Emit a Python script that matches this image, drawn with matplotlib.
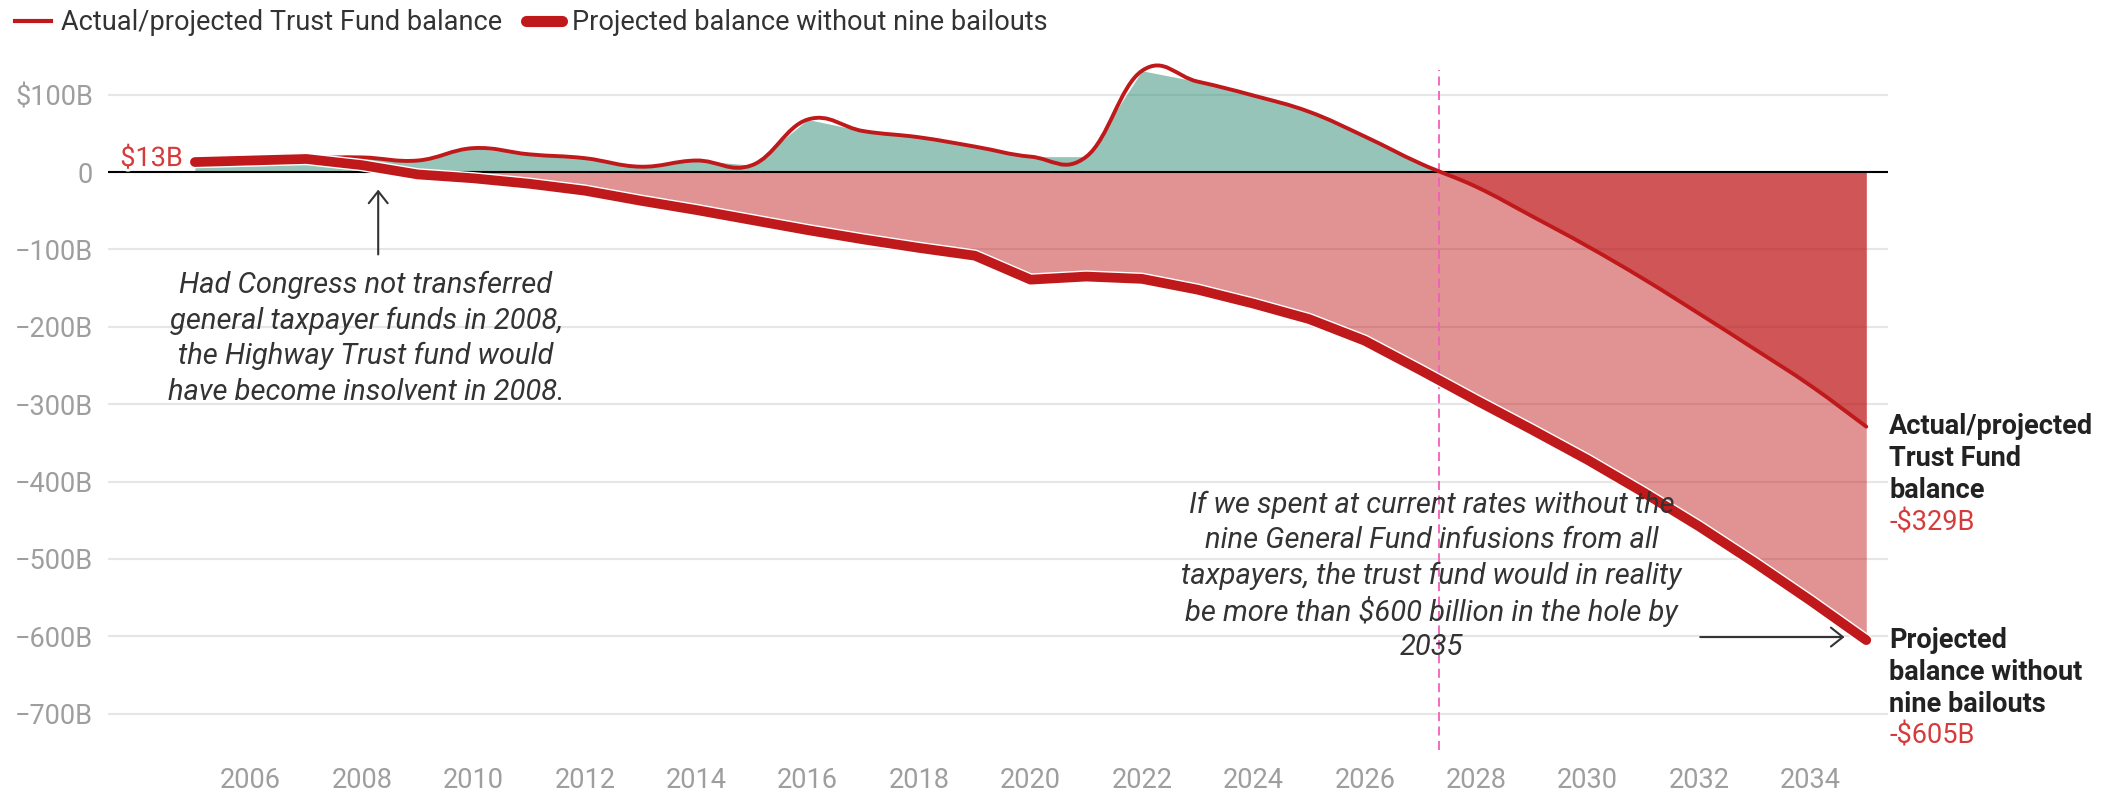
import numpy as np
import matplotlib
matplotlib.use("Agg")
import matplotlib.pyplot as plt
from matplotlib.path import Path
from matplotlib.patches import PathPatch, FancyArrowPatch
from matplotlib.lines import Line2D
import matplotlib.patheffects as pe

# ---------------- data ----------------
years = list(range(2005, 2036))
actual = [13, 16, 18, 19, 15, 31, 23, 18, 7, 15, 9, 68, 53, 45, 33, 20, 20,
          131, 117, 99, 78, 46, 11, -19, -57, -96, -138, -183, -229, -276, -329]
no_bailout = [13, 15, 17, 9, -3, -8, -15, -24, -37, -49, -62, -75, -87, -98,
              -108, -139, -135, -138, -152, -170, -190, -218, -256, -295, -333,
              -372, -414, -458, -505, -554, -605]
series_names = ["Actual/projected Trust Fund balance",
                "Projected balance without nine bailouts"]
end_names = ["Actual/projected\nTrust Fund\nbalance",
             "Projected\nbalance without\nnine bailouts"]
end_values = ["-$329B", "-$605B"]
start_label = "$13B"
yticks = [100, 0, -100, -200, -300, -400, -500, -600, -700]
ytick_labels = ["$100B", "0", "\u2212100B", "\u2212200B", "\u2212300B",
                "\u2212400B", "\u2212500B", "\u2212600B", "\u2212700B"]
xticks = list(range(2006, 2035, 2))
insolvency_year = 2027.33
note1 = ["Had Congress not transferred", "general taxpayer funds in 2008,",
         "the Highway Trust fund would", "have become insolvent in 2008."]
note2 = ["If we spent at current rates without the",
         "nine General Fund infusions from all",
         "taxpayers, the trust fund would in reality",
         "be more than $600 billion in the hole by", "2035"]

# ---------------- style ----------------
plt.rcParams["font.family"] = ["Roboto", "DejaVu Sans"]
RED = "#c0191b"
GREEN = "#2e8b74"
PINK_LINE = "#f060b8"
GRID = "#e6e6e6"
TICK = "#9e9e9e"
TEXT = "#333333"
LABEL_RED = "#d63b3b"
FS = 19.5
NOTE_FS = 21

W, H = 2108, 794
fig = plt.figure(figsize=(W / 100, H / 100), dpi=100)
ax = fig.add_axes([108 / W, 44 / H, 1780 / W, 680 / H])
ax.set_xlim(2003.44, 2035.39)
ax.set_ylim(-747, 132)

x = np.array(years, dtype=float)
ya = np.array(actual, dtype=float)
yb = np.array(no_bailout, dtype=float)

# fills
ax.fill_between(x, 0, ya, where=ya >= 0, interpolate=True, color=GREEN,
                alpha=0.5, lw=0, zorder=2)
ax.fill_between(x, 0, yb, where=yb <= 0, interpolate=True, color=RED,
                alpha=0.47, lw=0, zorder=2)
ax.fill_between(x, 0, ya, where=ya <= 0, interpolate=True, color=RED,
                alpha=0.5, lw=0, zorder=2)

# grid and zero line
ax.set_yticks(yticks)
ax.set_yticklabels(ytick_labels)
ax.set_xticks(xticks)
ax.set_xticklabels([str(t) for t in xticks])
ax.yaxis.grid(True, color=GRID, lw=1.5, zorder=0)
ax.set_axisbelow(True)
ax.axhline(0, color="black", lw=1.5, zorder=4)
for s in ax.spines.values():
    s.set_visible(False)
ax.tick_params(axis="both", length=0, labelsize=FS, labelcolor=TICK)
ax.tick_params(axis="y", pad=10.8)
ax.tick_params(axis="x", pad=12)

# insolvency dashed line
ax.axvline(insolvency_year, color=PINK_LINE, lw=1.3, ls=(0, (5, 3)), zorder=5)

# smooth (cardinal spline) actual line drawn as cubic Bezier path
pts = np.column_stack([x, ya])
verts = [tuple(pts[0])]
codes = [Path.MOVETO]
n = len(pts)
k = 5.0
for i in range(n - 1):
    p0 = pts[i - 1] if i > 0 else pts[i]
    p1 = pts[i]
    p2 = pts[i + 1]
    p3 = pts[i + 2] if i + 2 < n else pts[i + 1]
    c1 = p1 + (p2 - p0) / k
    c2 = p2 - (p3 - p1) / k
    verts += [tuple(c1), tuple(c2), tuple(p2)]
    codes += [Path.CURVE4] * 3
ax.add_patch(PathPatch(Path(verts, codes), fill=False, edgecolor=RED, lw=2.8,
                       capstyle="round", joinstyle="round", zorder=6,
                       clip_on=False))

# thick projected line
ax.plot(x, yb, color=RED, lw=7, solid_capstyle="round",
        solid_joinstyle="round", zorder=7, clip_on=False,
        path_effects=[pe.Stroke(linewidth=9, foreground="white"), pe.Normal()])

# start label
ax.annotate(start_label, xy=(x[0], ya[0]), xytext=(-12, 3.5),
            textcoords="offset pixels", ha="right", va="center", fontsize=FS,
            color=LABEL_RED, zorder=8,
            path_effects=[pe.withStroke(linewidth=4, foreground="white")])

# end labels
for name, val, yv in [(end_names[0], end_values[0], ya[-1]),
                      (end_names[1], end_values[1], yb[-1])]:
    lines = name.split("\n")
    for i, ln in enumerate(lines):
        ax.annotate(ln, xy=(x[-1], yv), xytext=(23, -32 * i),
                    textcoords="offset pixels", ha="left", va="center",
                    fontsize=FS, fontweight="bold", color="#222222",
                    annotation_clip=False)
    ax.annotate(val, xy=(x[-1], yv), xytext=(23, -32 * len(lines)),
                textcoords="offset pixels", ha="left", va="center",
                fontsize=FS, color=LABEL_RED, annotation_clip=False)

# notes
for i, ln in enumerate(note1):
    ax.annotate(ln, xy=(2008.07, -146), xytext=(0, -35.5 * i),
                textcoords="offset pixels", ha="center", va="center",
                fontsize=NOTE_FS, style="italic", color=TEXT, zorder=9)
for i, ln in enumerate(note2):
    ax.annotate(ln, xy=(2027.2, -430), xytext=(0, -35.5 * i),
                textcoords="offset pixels", ha="center", va="center",
                fontsize=NOTE_FS, style="italic", color=TEXT, zorder=9)

# arrows
ax.add_patch(FancyArrowPatch((2008.29, -110), (2008.29, -19),
                             arrowstyle="->,head_length=0.43,head_width=0.34",
                             mutation_scale=20, color=TEXT, lw=1.5, zorder=9))
ax.add_patch(FancyArrowPatch((2031.97, -601), (2034.66, -601),
                             arrowstyle="->,head_length=0.43,head_width=0.34",
                             mutation_scale=20, color=TEXT, lw=1.5, zorder=9))

# legend
handles = [Line2D([], [], color=RED, lw=3),
           Line2D([], [], color=RED, lw=8, solid_capstyle="round")]
leg = fig.legend(handles, series_names, loc="center left",
                 bbox_to_anchor=(15 / W, 1 - 23 / H), ncol=2, frameon=False,
                 fontsize=FS, handlelength=1.33, handletextpad=0.38,
                 columnspacing=0.87, borderpad=0, borderaxespad=0)
for t in leg.get_texts():
    t.set_color(TEXT)

fig.savefig("out.png", dpi=100)
